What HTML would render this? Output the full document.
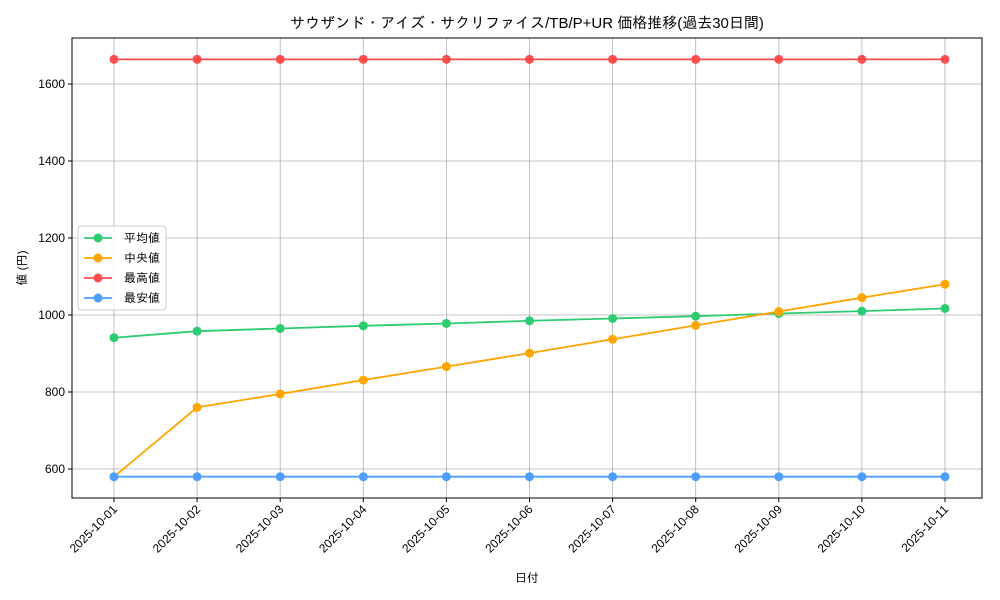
<!DOCTYPE html>
<html><head><meta charset="utf-8">
<style>
html,body{margin:0;padding:0;background:#fff;}
svg{display:block;font-family:"Liberation Sans","IPAGothic","Noto Sans CJK JP",sans-serif;}
</style></head>
<body>
<svg id="chart" width="1000" height="600" xmlns="http://www.w3.org/2000/svg">
<text x="527" y="28" text-anchor="middle" font-size="15" fill="#000">サウザンド・アイズ・サクリファイス/TB/P+UR 価格推移(過去30日間)</text>
<g id="grid"></g>
<g id="series"></g>
<rect x="72" y="38" width="910" height="460" fill="none" stroke="#000" stroke-width="1"/>
<g id="axes"></g>
<text x="527" y="582" text-anchor="middle" font-size="12">日付</text>
<text transform="translate(26,268) rotate(-90)" text-anchor="middle" font-size="12">値 (円)</text>
<g id="legend"></g>
</svg>
<script>
const dates = ["2025-10-01","2025-10-02","2025-10-03","2025-10-04","2025-10-05","2025-10-06","2025-10-07","2025-10-08","2025-10-09","2025-10-10","2025-10-11"];
const avgValues = [941,958,965,972,978,985,991,997,1004,1010,1017];
const medianValues = [580,760,795,831,866,901,937,973,1009,1045,1080];
const maxValues = [1664,1664,1664,1664,1664,1664,1664,1664,1664,1664,1664];
const minValues = [580,580,580,580,580,580,580,580,580,580,580];
const yTicks = [600,800,1000,1200,1400,1600];
const seriesNames = ["平均値","中央値","最高値","最安値"];

const NS="http://www.w3.org/2000/svg";
const x0=114, x1=945, plotTop=38, plotBottom=498, plotLeft=72, plotRight=982;
const yMin=524.7, yMax=1719.5;
function xs(i){return x0+(x1-x0)*i/(dates.length-1);}
function ys(v){return plotBottom-(v-yMin)/(yMax-yMin)*(plotBottom-plotTop);}
function mk(tag,attrs,parent){const e=document.createElementNS(NS,tag);for(const k in attrs)e.setAttribute(k,attrs[k]);parent.appendChild(e);return e;}
const grid=document.getElementById('grid'), axes=document.getElementById('axes'), ser=document.getElementById('series'), leg=document.getElementById('legend');

dates.forEach((d,i)=>{
  const x=xs(i);
  const g=mk('line',{x1:x,x2:x,y1:plotTop,y2:plotBottom,stroke:'#b0b0b0','stroke-width':0.8},grid);
  
  
  const t=mk('line',{x1:x,x2:x,y1:plotBottom,y2:plotBottom+4,stroke:'#000'},axes);
  
  
  const lb=mk('text',{x:x+4,y:plotBottom+12,'font-size':12,'text-anchor':'end',transform:`rotate(-45 ${x+4} ${plotBottom+12})`},axes);
  lb.textContent=d;
  
  
});
yTicks.forEach(v=>{
  const y=ys(v);
  const g=mk('line',{x1:plotLeft,x2:plotRight,y1:y,y2:y,stroke:'#b0b0b0','stroke-width':0.8},grid);
  
  
  const t=mk('line',{x1:plotLeft-4,x2:plotLeft,y1:y,y2:y,stroke:'#000'},axes);
  
  
  const lb=mk('text',{x:plotLeft-7,y:y+4,'font-size':12,'text-anchor':'end'},axes);
  lb.textContent=v;
  
  
});
const allSeries=[avgValues,medianValues,maxValues,minValues];
const colors=["#2ecc71","#ffa500","#ff4d4d","#4d9eff"];
const keys=["average","median","max","min"];
allSeries.forEach((vals,s)=>{
  const pts=vals.map((v,i)=>xs(i)+','+ys(v)).join(' ');
  const pl=mk('polyline',{points:pts,fill:'none',stroke:colors[s],'stroke-width':1.8},ser);
  
  
  vals.forEach((v,i)=>{
    const c=mk('circle',{cx:xs(i),cy:ys(v),r:4.5,fill:colors[s]},ser);
    
    
  });
});
const box=mk('rect',{x:78,y:226,width:88,height:84,rx:3,fill:'#fff','fill-opacity':0.85,stroke:'#ccc'},leg);


seriesNames.forEach((n,s)=>{
  const y=238+s*20;
  const g=mk('g',{},leg);
  
  
  mk('line',{x1:84,x2:112,y1:y,y2:y,stroke:colors[s],'stroke-width':1.8},g);
  mk('circle',{cx:98,cy:y,r:4.5,fill:colors[s]},g);
  const t=mk('text',{x:124,y:y+4,'font-size':12},g);
  t.textContent=n;
});
</script>
</body></html>
